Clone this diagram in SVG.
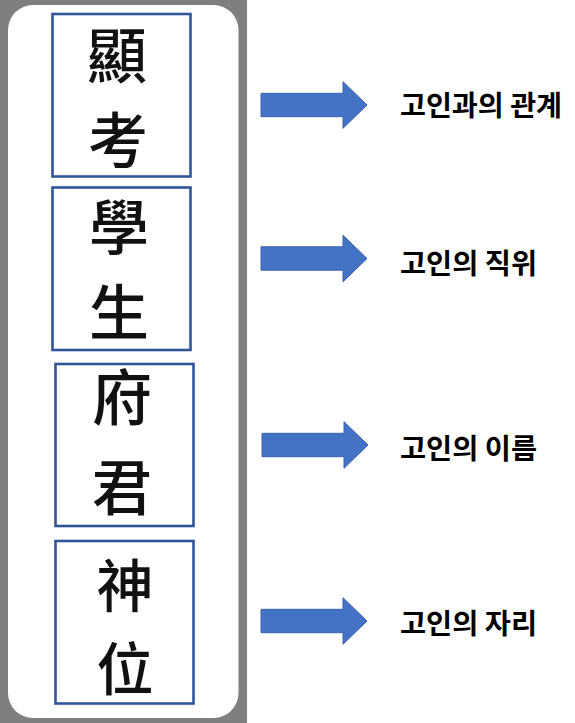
<svg xmlns="http://www.w3.org/2000/svg" xmlns:xlink="http://www.w3.org/1999/xlink" width="575" height="723" viewBox="0 0 575 723">
<style>
.box{fill:#ffffff;stroke:#2F5597;stroke-width:2.6}
.han{font-family:"Noto Sans CJK TC","Noto Sans CJK KR",sans-serif;font-size:60px;font-weight:500;fill:#111111;text-anchor:middle}
.lbl{font-family:"Noto Sans CJK KR",sans-serif;font-size:28px;font-weight:700;fill:#000000}
.arrow{fill:#4472C4;stroke:#3A63AD;stroke-width:1}
</style>
<defs>
<path id="arr" d="M0,-11.7 H82 V-23.3 L106,0 L82,23.3 V11.7 H0 Z"/>
</defs>
<rect x="0" y="0" width="575" height="723" fill="#ffffff"/>
<rect x="0" y="0" width="247" height="723" fill="#7F7F7F"/>
<rect x="8" y="5" width="230.5" height="713" rx="25" ry="25" fill="#ffffff"/>
<g id="node-1">
<rect class="box" x="52.5" y="14" width="138" height="162.5"/>
<text class="han"><tspan x="117" y="78">顯</tspan><tspan x="118" y="163">考</tspan></text>
</g>
<g id="node-2">
<rect class="box" x="52.5" y="187.5" width="138" height="162.5"/>
<text class="han"><tspan x="119" y="250">學</tspan><tspan x="119" y="335">生</tspan></text>
</g>
<g id="node-3">
<rect class="box" x="55.5" y="364" width="138" height="162"/>
<text class="han"><tspan x="122" y="420">府</tspan><tspan x="122" y="510">君</tspan></text>
</g>
<g id="node-4">
<rect class="box" x="55.5" y="541" width="138" height="162.5"/>
<text class="han" style="font-size:57px"><tspan x="125" y="607">神</tspan><tspan x="125" y="690">位</tspan></text>
</g>
<g id="connectors">
<use class="arrow" xlink:href="#arr" transform="translate(261,105)"/>
<use class="arrow" xlink:href="#arr" transform="translate(261,258.5)"/>
<use class="arrow" xlink:href="#arr" transform="translate(262,445)"/>
<use class="arrow" xlink:href="#arr" transform="translate(261,621)"/>
</g>
<g id="label-1"><text class="lbl" x="400" y="115.5" textLength="162" lengthAdjust="spacingAndGlyphs">고인과의 관계</text></g>
<g id="label-2"><text class="lbl" x="400" y="273.5" textLength="137" lengthAdjust="spacingAndGlyphs">고인의 직위</text></g>
<g id="label-3"><text class="lbl" x="400" y="458.5" textLength="137" lengthAdjust="spacingAndGlyphs">고인의 이름</text></g>
<g id="label-4"><text class="lbl" x="400" y="633.5" textLength="137" lengthAdjust="spacingAndGlyphs">고인의 자리</text></g>
</svg>
